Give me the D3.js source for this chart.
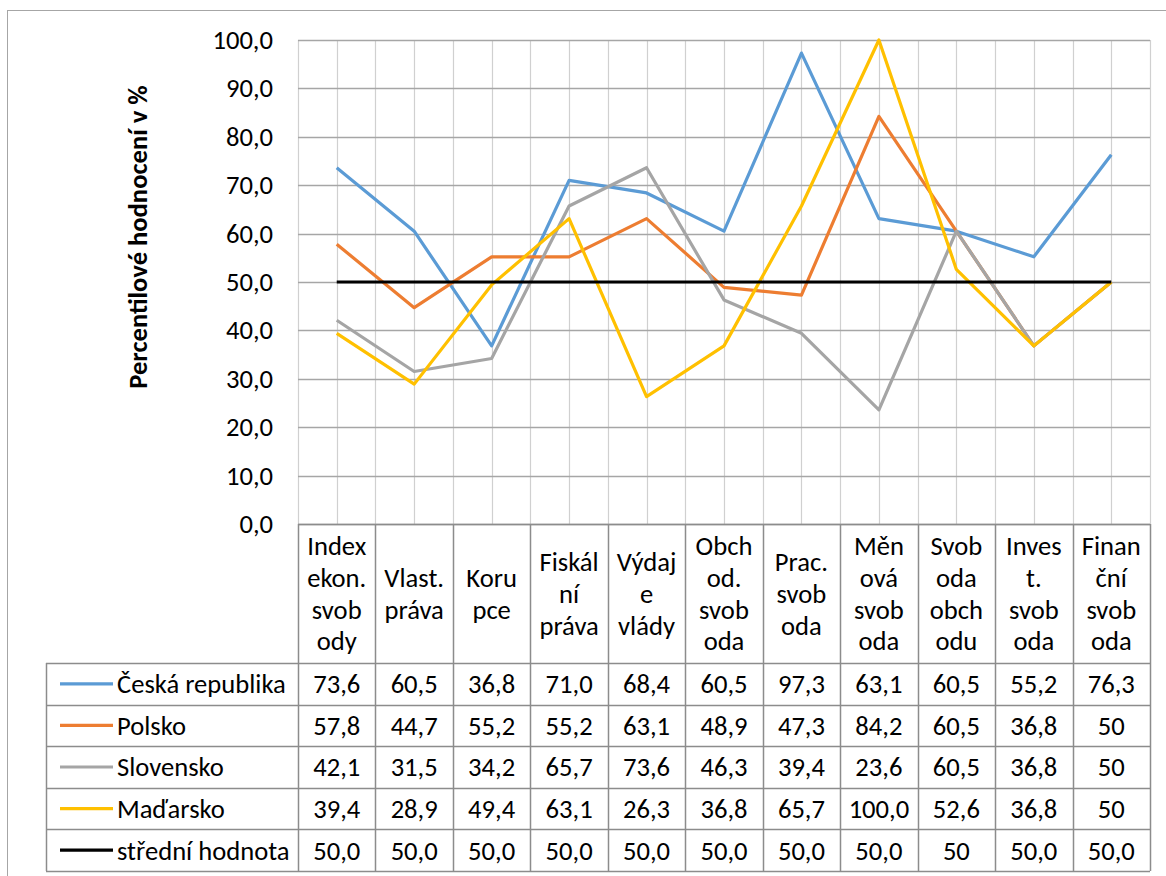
<!DOCTYPE html>
<html><head><meta charset="utf-8">
<script src="https://cdn.jsdelivr.net/npm/d3@7"></script>
<style>body{margin:0;background:#fff}svg{display:block}text{font-family:Carlito,Lato,"Open Sans",sans-serif;fill:#000}</style>
</head><body><svg id="c" width="1166" height="876"></svg>
<script>
const categories = [
  ["Index","ekon.","svob","ody"],
  ["Vlast.","práva"],
  ["Koru","pce"],
  ["Fiskál","ní","práva"],
  ["Výdaj","e","vlády"],
  ["Obch","od.","svob","oda"],
  ["Prac.","svob","oda"],
  ["Měn","ová","svob","oda"],
  ["Svob","oda","obch","odu"],
  ["Inves","t.","svob","oda"],
  ["Finan","ční","svob","oda"]
];
const seriesNames = ["Česká republika","Polsko","Slovensko","Maďarsko","střední hodnota"];
const ceskaRepublika = ["73,6","60,5","36,8","71,0","68,4","60,5","97,3","63,1","60,5","55,2","76,3"];
const polsko        = ["57,8","44,7","55,2","55,2","63,1","48,9","47,3","84,2","60,5","36,8","50"];
const slovensko     = ["42,1","31,5","34,2","65,7","73,6","46,3","39,4","23,6","60,5","36,8","50"];
const madarsko      = ["39,4","28,9","49,4","63,1","26,3","36,8","65,7","100,0","52,6","36,8","50"];
const stredniHodnota= ["50,0","50,0","50,0","50,0","50,0","50,0","50,0","50,0","50","50,0","50,0"];
const yTicks = [0,10,20,30,40,50,60,70,80,90,100];
const yTitle = "Percentilové hodnocení v %";
const colors = ["#5B9BD5","#ED7D31","#A5A5A5","#FFC000","#000000"];

const allSeries = [ceskaRepublika, polsko, slovensko, madarsko, stredniHodnota];
const num = s => +s.replace(",", ".");
const FS = "26.6px";

const svg = d3.select("#c");
const L = 298, R = 1150, T = 40, B = 524;
const x = d3.scaleBand().domain(d3.range(categories.length)).range([L, R]).paddingInner(0).paddingOuter(0);
const y = d3.scaleLinear().domain([0,100]).range([B, T]);
const bw = x.bandwidth();

// outer border
svg.append("rect").attr("x",7.5).attr("y",10.5).attr("width",1170).attr("height",880)
  .attr("fill","none").attr("stroke","#a6a6a6").attr("stroke-width",1);

// vertical gridlines (minor at half-band)
const g = svg.append("g");
for (let i = 0; i <= categories.length*2; i++) {
  const xv = L + i*bw/2;
  g.append("line").attr("x1",Math.round(xv)+0.5).attr("x2",Math.round(xv)+0.5).attr("y1",T).attr("y2",B)
    .attr("stroke", "#d0d0d0").attr("stroke-width",1.2);
}
// horizontal gridlines
yTicks.forEach(t => {
  g.append("line").attr("x1",L).attr("x2",R).attr("y1",Math.round(y(t))+0.5).attr("y2",Math.round(y(t))+0.5)
    .attr("stroke","#a6a6a6").attr("stroke-width",1.3);
});
// axis
const ya = d3.axisLeft(y).tickValues(yTicks).tickSize(0).tickPadding(25)
  .tickFormat(d => d3.format(".1f")(d).replace(".", ","));
const yg = svg.append("g").attr("transform",`translate(${L},0)`).call(ya);
yg.select(".domain").remove();
yg.selectAll("text").style("font-size",FS).style("font-family","Carlito,Lato,'Open Sans',sans-serif").attr("fill","#000");

// y title
svg.append("text").attr("transform","translate(147,237) rotate(-90)").attr("text-anchor","middle")
  .style("font-size",FS).style("font-weight","bold").text(yTitle);

// lines
const line = d3.line().x((d,i) => x(i) + bw/2).y(d => y(num(d)));
[0,1,2,3,4].forEach(k => {
  svg.append("path").datum(allSeries[k]).attr("d", line).attr("fill","none")
    .attr("stroke", colors[k]).attr("stroke-width",3.2).attr("stroke-linejoin","round");
});

// table
const tbl = svg.append("g");
const hdrBottom = 663, rowH = 41.6, legL = 46;
const rowTops = d3.range(6).map(i => hdrBottom + i*rowH);
const lineCol = "#8c8c8c";
for (let i = 0; i <= categories.length; i++) {
  const xv = Math.round(L + i*bw) + 0.5;
  tbl.append("line").attr("x1",xv).attr("x2",xv).attr("y1",B).attr("y2",rowTops[5]).attr("stroke",lineCol).attr("stroke-width",1.5);
}
tbl.append("line").attr("x1",L).attr("x2",R).attr("y1",B+0.5).attr("y2",B+0.5).attr("stroke",lineCol).attr("stroke-width",1.5);
rowTops.forEach(rt => {
  tbl.append("line").attr("x1",legL).attr("x2",R).attr("y1",Math.round(rt)+0.5).attr("y2",Math.round(rt)+0.5).attr("stroke",lineCol).attr("stroke-width",1.5);
});
tbl.append("line").attr("x1",legL+0.5).attr("x2",legL+0.5).attr("y1",rowTops[0]).attr("y2",rowTops[5]).attr("stroke",lineCol).attr("stroke-width",1.5);

// header labels
const lh = 31.7;
categories.forEach((lines, i) => {
  const cy = (B + hdrBottom)/2;
  const start = cy - (lines.length-1)*lh/2;
  const t = tbl.append("text").attr("text-anchor","middle").style("font-size",FS);
  lines.forEach((s, j) => {
    t.append("tspan").attr("x", x(i)+bw/2).attr("y", start + j*lh).attr("dy","0.35em").text(s);
  });
});
// rows
seriesNames.forEach((nm, k) => {
  const cy = rowTops[k] + rowH/2;
  tbl.append("line").attr("x1",60).attr("x2",113).attr("y1",cy).attr("y2",cy).attr("stroke",colors[k]).attr("stroke-width",3.2);
  tbl.append("text").attr("x",117).attr("y",cy).attr("dy","0.35em").style("font-size",FS).text(nm);
  allSeries[k].forEach((v, i) => {
    tbl.append("text").attr("x", x(i)+bw/2).attr("y", cy).attr("dy","0.35em").attr("text-anchor","middle")
      .style("font-size",FS).text(v);
  });
});
</script></body></html>
